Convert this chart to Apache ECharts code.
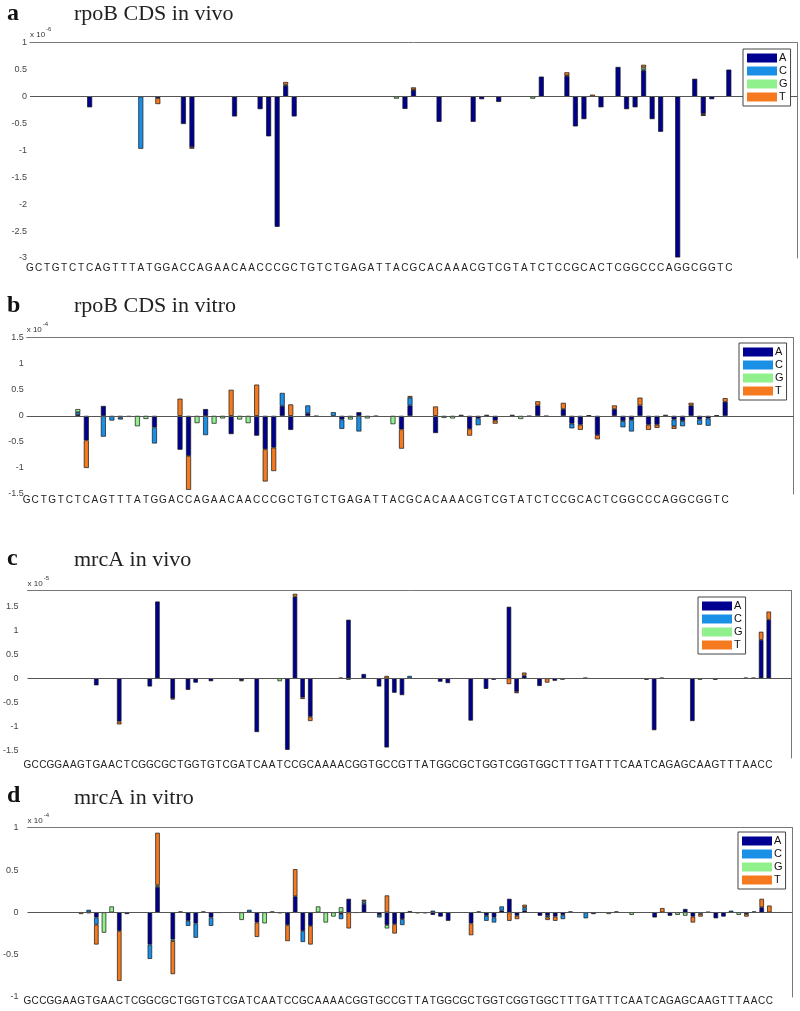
<!DOCTYPE html>
<html><head><meta charset="utf-8">
<script src="https://cdn.jsdelivr.net/npm/echarts@6/dist/echarts.min.js"></script>
<style>html,body{margin:0;padding:0;background:#fff}#c{width:800px;height:1011px}</style>
</head><body><div id="c"></div>
<script>
// ---------------- data ----------------
const seqRpoB = "GCTGTCTCAGTTTATGGACCAGAACAACCCGCTGTCTGAGATTACGCACAAACGTCGTATCTCCGCACTCGGCCCAGGCGGTC";
const seqMrcA = "GCCGGAAGTGAACTCGGCGCTGGTGTCGATCAATCCGCAAAACGGTGCCGTTATGGCGCTGGTCGGTGGCTTTGATTTCAATCAGAGCAAGTTTAACC";
const bases = ['A', 'C', 'G', 'T'];
const baseColors = ['#000090', '#1a8fe6', '#90f08c', '#f57a1f'];
const panelLetters = ['a', 'b', 'c', 'd'];
const panelTitles = ['rpoB CDS in vivo', 'rpoB CDS in vitro', 'mrcA in vivo', 'mrcA in vitro'];
const exponents = ['-6', '-4', '-5', '-4'];
const yTicksC = [-1.5, -1, -0.5, 0, 0.5, 1, 1.5];

// rows: [position in sequence, A, C, G, T]  (units of the axis multiplier)
const rpoBInVivo = [
  [7, -0.2, 0, 0, 0], [13, 0, -0.97, 0, 0], [15, -0.03, 0, 0, -0.11], [18, -0.51, 0, 0, 0],
  [19, -0.94, 0, 0, -0.03], [24, -0.37, 0, 0, 0], [27, -0.235, 0, 0, 0], [28, -0.74, 0, 0, 0],
  [29, -2.42, 0, 0, 0], [30, 0.2, 0.02, 0, 0.05], [31, -0.37, 0, 0, 0], [43, 0, 0, -0.04, 0],
  [44, -0.23, 0, 0, 0], [45, 0.12, 0, 0.01, 0.04], [48, -0.47, 0, 0, 0], [52, -0.47, 0, 0, 0],
  [53, -0.05, 0, 0, 0], [55, -0.1, 0, 0, 0], [59, 0, 0, -0.04, 0], [60, 0.37, 0, 0, 0],
  [63, 0.38, 0, 0.01, 0.06], [64, -0.555, 0, 0, 0], [65, -0.42, 0, 0, 0], [66, 0, 0, 0, 0.035],
  [67, -0.2, 0, 0, 0], [69, 0.55, 0, 0, 0], [70, -0.235, 0, 0, 0], [71, -0.2, 0, 0, 0],
  [72, 0.48, 0.02, 0.04, 0.05], [73, -0.42, 0, 0, 0], [74, -0.655, 0, 0, 0], [76, -2.99, 0, 0, 0],
  [78, 0.33, 0, 0, 0], [79, -0.32, 0, -0.02, -0.02], [80, -0.05, 0, 0, 0], [82, 0.5, 0, 0, 0]
];
const rpoBInVitro = [
  [6, 0.02, 0.05, 0.06, 0], [7, -0.47, 0, 0, -0.53], [9, 0.19, -0.4, 0, 0], [10, 0, -0.09, 0, 0],
  [11, -0.03, -0.04, 0, 0], [12, -0.02, 0, 0, 0], [13, 0, 0, -0.2, 0], [14, 0, 0, -0.06, 0],
  [15, -0.22, -0.31, 0, 0], [18, -0.65, 0, 0, 0.33], [19, -0.77, 0, 0, -0.65], [20, 0, 0, -0.14, 0],
  [21, 0.13, -0.37, 0, 0], [22, 0, 0, -0.15, 0], [23, 0, 0, -0.05, 0], [24, -0.35, 0, 0, 0.5],
  [25, 0, 0, -0.07, 0], [26, 0, 0, -0.14, 0], [27, -0.38, 0, 0, 0.6], [28, -0.64, 0, 0, -0.62],
  [29, -0.61, 0, 0, -0.45], [30, 0.19, 0.25, 0, 0], [31, -0.27, 0, 0, 0.22], [33, 0.05, 0.15, 0, 0],
  [34, -0.01, 0, 0, 0], [36, 0, 0.07, 0, 0], [37, -0.07, -0.18, 0, 0], [38, -0.02, 0, -0.05, 0],
  [39, 0.07, -0.3, 0, 0], [40, 0, 0, -0.05, 0], [41, -0.01, 0, 0, 0], [43, 0, 0, -0.16, 0],
  [44, -0.26, 0, 0, -0.37], [45, 0.2, 0.15, 0, 0.03], [48, -0.33, 0, 0, 0.18], [49, 0, 0, -0.04, 0],
  [50, 0, 0, -0.05, 0], [51, 0, 0, 0.02, 0], [52, -0.25, 0, 0, -0.13], [53, -0.05, -0.13, 0, 0],
  [54, 0, 0, 0.02, 0], [55, -0.09, 0, 0, -0.06], [57, 0, 0, 0.02, 0], [58, 0, 0, -0.06, 0],
  [59, -0.01, 0, 0, 0], [60, 0.2, 0, 0, 0.08], [61, -0.01, 0, 0, 0], [63, 0.13, 0, 0, 0.12],
  [64, -0.15, -0.09, 0, 0], [65, -0.17, 0, 0, -0.1], [66, 0, 0, 0.01, 0], [67, -0.37, 0, 0, -0.08],
  [69, 0.13, 0, 0, 0.07], [70, -0.1, -0.12, 0, 0], [71, -0.08, -0.22, 0, 0], [72, 0.2, 0, 0, 0.15],
  [73, -0.17, 0, 0, -0.1], [74, -0.17, 0, 0, -0.06], [75, 0, 0, 0.02, 0], [76, -0.07, -0.13, 0, -0.05],
  [77, -0.1, -0.1, 0, 0], [78, 0.2, 0, 0, 0.05], [79, -0.07, -0.1, 0, 0], [80, -0.05, -0.14, 0, 0],
  [81, 0, 0, 0.01, 0], [82, 0.27, 0, 0, 0.07]
];
const mrcAInVivo = [
  [9, -0.146, 0, 0, 0], [12, -0.9, 0, 0, -0.06], [16, -0.17, 0, 0, 0], [17, 1.6, 0, 0, 0],
  [19, -0.42, 0, 0, -0.02], [21, -0.24, 0, 0, 0], [22, -0.09, 0, 0, 0], [24, -0.06, 0, 0, 0],
  [28, -0.04, 0, 0, -0.02], [30, -1.12, 0, 0, 0], [33, 0, 0, -0.06, 0], [34, -1.49, 0, 0, 0],
  [35, 1.7, 0, 0, 0.06], [36, -0.4, 0, 0, -0.03], [37, -0.8, 0, 0, -0.09], [41, 0, 0, 0, 0.01],
  [42, 1.22, 0, -0.03, 0], [44, 0.09, 0, 0, 0], [46, -0.17, 0, 0, 0], [47, -1.44, 0, 0, 0.05],
  [48, -0.3, 0, 0, 0], [49, -0.35, 0, 0, 0], [50, 0, 0.05, 0, 0], [54, -0.07, 0, 0, 0],
  [55, -0.1, 0, 0, 0], [58, -0.88, 0, 0, 0], [60, -0.22, 0, 0, 0], [61, -0.03, 0, 0, 0],
  [63, 1.49, 0, 0, -0.12], [64, -0.28, 0, 0, -0.03], [65, 0.06, 0, 0, 0.06], [67, -0.16, 0, 0, 0],
  [68, 0, 0, 0, -0.09], [69, -0.05, 0, 0, 0], [70, 0, 0, -0.03, 0], [73, 0.01, 0, 0, 0],
  [81, -0.03, 0, 0, 0], [82, -1.08, 0, 0, 0], [83, 0.01, 0, 0, 0], [87, -0.89, 0, 0, 0],
  [88, 0, 0, -0.03, 0], [90, -0.03, 0, 0, 0], [94, 0.01, 0, 0, 0], [95, 0.01, 0, 0, 0],
  [96, 0.8, 0, 0, 0.17], [97, 1.22, 0, 0, 0.17]
];
const mrcAInVitro = [
  [7, 0, 0, 0, -0.02], [8, -0.01, 0.03, 0, 0], [9, -0.06, -0.085, 0, -0.235], [10, 0, 0, -0.24, 0],
  [11, 0, 0, 0.07, 0], [12, -0.22, 0, 0, -0.59], [13, -0.02, 0, 0, 0], [16, -0.38, -0.17, 0, 0],
  [17, 0.3, 0, 0.02, 0.62], [19, -0.32, 0, -0.02, -0.39], [20, 0, 0.01, 0, 0], [21, -0.1, -0.06, 0, 0],
  [22, -0.13, -0.17, 0, 0], [23, 0, 0.01, 0, 0], [24, -0.06, -0.1, 0, 0], [25, -0.005, 0, 0, 0],
  [28, 0, 0, -0.09, 0], [29, 0, 0.03, 0, 0], [30, -0.12, 0, 0, -0.17], [31, 0, 0, -0.13, 0],
  [32, 0, 0, 0.01, 0], [33, -0.01, 0, 0, 0], [34, -0.15, 0, 0, -0.19], [35, 0.19, 0, 0, 0.32],
  [36, -0.22, -0.13, 0, 0], [37, -0.16, 0, 0, -0.22], [38, 0, 0, 0.07, 0], [39, 0, 0, -0.12, 0],
  [40, 0, 0, -0.05, 0], [41, -0.02, -0.06, 0.06, 0], [42, 0.16, 0, 0, -0.19], [43, -0.005, 0, 0, 0],
  [44, 0.1, 0.03, 0, 0.02], [46, -0.03, -0.03, 0, 0], [47, -0.15, 0, -0.04, 0.2], [48, -0.14, 0, 0, -0.11],
  [49, -0.08, -0.07, 0, 0], [50, 0, 0, 0.015, 0], [51, -0.01, 0, 0, 0], [52, -0.01, 0, 0, 0],
  [53, -0.03, 0.02, 0, 0], [54, -0.05, 0, 0, 0], [55, -0.1, 0, 0, 0], [58, -0.13, 0, 0, -0.14],
  [59, 0.01, 0, 0, 0], [60, -0.04, -0.06, 0, 0], [61, -0.06, -0.06, 0, 0], [62, 0.02, 0.05, 0, 0],
  [63, 0.16, 0, 0, -0.1], [64, -0.04, 0, 0, -0.04], [65, 0.02, 0.04, 0, 0.03], [67, -0.04, 0, 0, 0],
  [68, -0.04, -0.02, 0, -0.03], [69, -0.05, 0, 0, -0.05], [70, -0.03, -0.05, 0, 0], [71, 0.01, 0, 0, 0],
  [73, 0, -0.07, 0, 0], [74, -0.02, 0, 0, 0], [76, 0, 0, -0.02, 0], [77, 0.01, 0, 0, 0],
  [79, 0, 0, -0.03, 0], [82, -0.06, 0, 0, 0], [83, 0, 0, 0, 0.05], [84, -0.04, 0, 0, 0],
  [85, 0, 0, -0.03, 0], [86, 0.04, 0, -0.04, 0], [87, -0.05, 0, 0, -0.07], [88, 0, 0, -0.02, -0.03],
  [89, 0.005, 0, 0, 0], [90, -0.07, 0, 0, 0], [91, -0.05, 0, 0, 0], [92, 0, 0.02, 0, 0],
  [93, 0, 0, -0.03, 0], [94, -0.02, 0, 0, -0.03], [95, 0.01, 0, 0, 0], [96, 0.06, 0, 0, 0.1],
  [97, 0, 0, 0, 0.08]
];

// ---------------- layout ----------------
const panels = [
  { seq: seqRpoB, n: 91, rows: rpoBInVivo, yMin: -3, yMax: 1, custom: null,
    grid: { left: 30, top: 42.7, width: 767, height: 215.3 }, legend: { left: 743, top: 49 },
    letterTop: 2, titleTop: 3, barWidth: 5, xMargin: 5.5, yMargin: 3 },
  { seq: seqRpoB, n: 91, rows: rpoBInVitro, yMin: -1.5, yMax: 1.5, custom: null,
    grid: { left: 26.7, top: 337.7, width: 766.6, height: 156.3 }, legend: { left: 739, top: 343 },
    letterTop: 294, titleTop: 295.5, barWidth: 5, xMargin: 1.5, yMargin: 3 },
  { seq: seqMrcA, n: 101, rows: mrcAInVivo, yMin: -1.66, yMax: 1.825, custom: yTicksC,
    grid: { left: 26, top: 590.7, width: 765.7, height: 167.3 }, legend: { left: 698, top: 597 },
    letterTop: 546.5, titleTop: 549.5, barWidth: 4.5, xMargin: 2.3, yMargin: 9 },
  { seq: seqMrcA, n: 101, rows: mrcAInVitro, yMin: -1, yMax: 1, custom: null,
    grid: { left: 26, top: 827.7, width: 766.3, height: 169.3 }, legend: { left: 738, top: 832 },
    letterTop: 784, titleTop: 787, barWidth: 4.5, xMargin: -0.5, yMargin: 9 }
];

const option = { animation: false, backgroundColor: '#fff', grid: [], xAxis: [], yAxis: [], series: [], legend: [], title: [] };

panels.forEach((p, i) => {
  option.grid.push(Object.assign({ containLabel: false }, p.grid));
  const cats = [];
  for (let k = 0; k < p.n; k++) cats.push(k < p.seq.length ? p.seq[k] : '');
  option.xAxis.push({
    type: 'category', gridIndex: i, data: cats, boundaryGap: false, position: 'bottom',
    axisLine: { show: false, onZero: false }, axisTick: { show: false }, splitLine: { show: false },
    axisLabel: { interval: 0, fontSize: 10, color: '#222', fontFamily: 'Liberation Sans', margin: p.xMargin }
  });
  option.xAxis.push({
    type: 'category', gridIndex: i, data: cats, boundaryGap: false, position: 'top',
    axisLine: { show: true, onZero: false, lineStyle: { color: '#777', width: 1 } },
    axisTick: { show: false }, axisLabel: { show: false }, splitLine: { show: false }
  });
  const yLeft = {
    type: 'value', gridIndex: i, min: p.yMin, max: p.yMax, position: 'left',
    axisLine: { show: false, onZero: false }, axisTick: { show: false }, splitLine: { show: false },
    axisLabel: { fontSize: 9, color: '#444', fontFamily: 'Liberation Sans', margin: p.yMargin },
    name: '{x|x 10}{s|' + exponents[i] + '}', nameLocation: 'end', nameGap: 3,
    nameTextStyle: {
      align: 'left', verticalAlign: 'bottom',
      rich: {
        x: { fontSize: 8, color: '#333', fontFamily: 'Liberation Sans', lineHeight: 12, verticalAlign: 'bottom' },
        s: { fontSize: 6, color: '#333', fontFamily: 'Liberation Sans', lineHeight: 12, verticalAlign: 'top', padding: [0, 0, 0, 1] }
      }
    }
  };
  if (p.custom) {
    yLeft.axisLabel.customValues = p.custom;
    yLeft.axisTick.customValues = p.custom;
  } else {
    yLeft.interval = 0.5;
  }
  option.yAxis.push(yLeft);
  option.yAxis.push({
    type: 'value', gridIndex: i, min: p.yMin, max: p.yMax, position: 'right',
    axisLine: { show: true, onZero: false, lineStyle: { color: '#777', width: 1 } },
    axisTick: { show: false }, axisLabel: { show: false }, splitLine: { show: false }
  });
  bases.forEach((b, j) => {
    const data = new Array(p.n).fill(null);
    p.rows.forEach(r => { if (r[j + 1] !== 0) data[r[0]] = r[j + 1]; });
    const s = {
      type: 'bar', name: b, xAxisIndex: 2 * i, yAxisIndex: 2 * i, stack: 'panel' + i,
      barWidth: p.barWidth, data: data,
      itemStyle: { color: baseColors[j], borderColor: '#151515', borderWidth: 0.7 },
      emphasis: { disabled: true }
    };
    if (j === 0) {
      s.markLine = {
        silent: true, symbol: ['none', 'none'], label: { show: false },
        lineStyle: { color: '#555', width: 1, type: 'solid' }, data: [{ yAxis: 0 }]
      };
    }
    option.series.push(s);
  });
  option.legend.push({
    data: bases, left: p.legend.left, top: p.legend.top, orient: 'vertical', icon: 'rect',
    itemWidth: 30, itemHeight: 9, itemGap: 1, padding: [3, 3, 3, 4], selectedMode: false,
    borderColor: '#444', borderWidth: 1, backgroundColor: '#fff', z: 10,
    itemStyle: { borderWidth: 0 },
    textStyle: { fontSize: 11, color: '#111', fontFamily: 'Liberation Sans', lineHeight: 12, padding: [0, 0, 0, -3] }
  });
  option.title.push({
    text: panelLetters[i], left: 7, top: p.letterTop, padding: 0,
    textStyle: { fontFamily: 'Liberation Serif', fontWeight: 'bold', fontSize: 24, color: '#111' }
  });
  option.title.push({
    text: panelTitles[i], left: 74, top: p.titleTop, padding: 0,
    textStyle: { fontFamily: 'Liberation Serif', fontWeight: 'normal', fontSize: 22, color: '#222' }
  });
});

const chart = echarts.init(document.getElementById('c'), null, { renderer: 'canvas' });
chart.setOption(option);
</script>
</body></html>
